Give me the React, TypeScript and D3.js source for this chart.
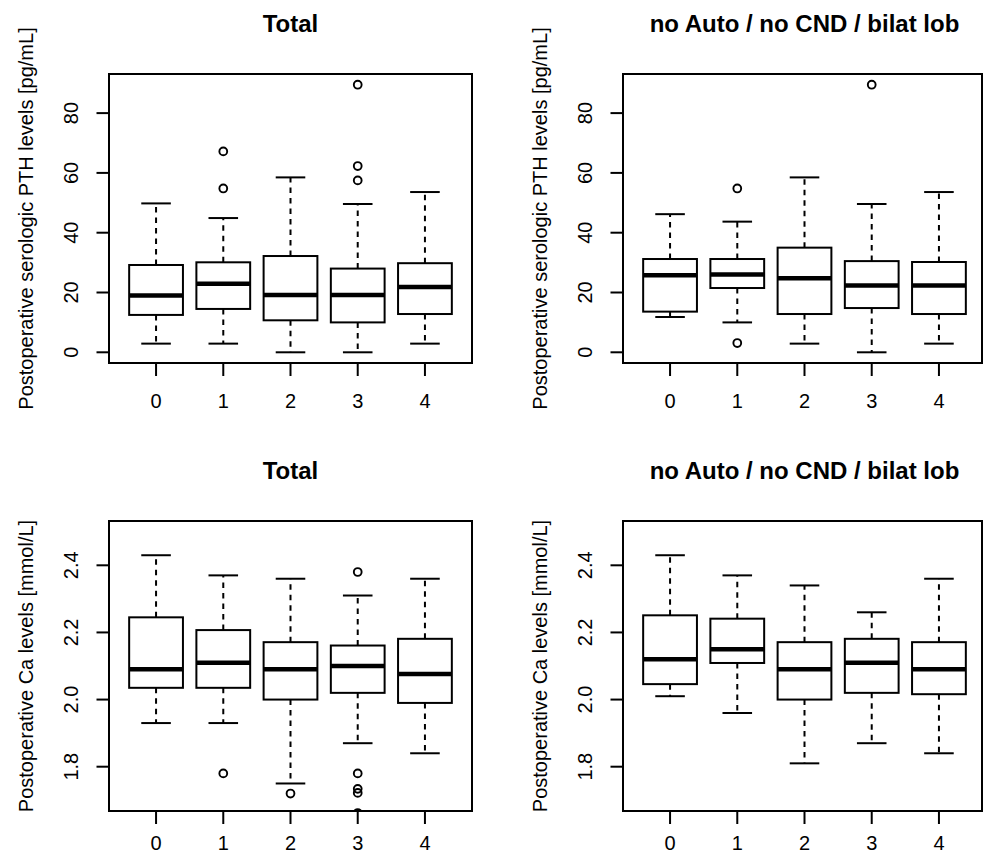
import React from 'react';
import * as d3 from 'd3';

const categories = ['0', '1', '2', '3', '4'];
const categoryPositions = [1, 2, 3, 4, 5];

const pthTicks = [0, 20, 40, 60, 80];
const caTicks = [1.8, 2.0, 2.2, 2.4];

// each box: [lower whisker, Q1, median, Q3, upper whisker]
const pthTotalStats = [
  [2.9, 12.5, 19.0, 29.2, 49.8],
  [2.9, 14.5, 22.9, 30.1, 44.9],
  [0.0, 10.7, 19.2, 32.2, 58.5],
  [0.0, 10.0, 19.2, 28.0, 49.6],
  [2.9, 12.8, 21.8, 29.8, 53.6],
];
const pthTotalOutliers = [[], [67.2, 54.8], [], [89.5, 62.3, 57.5], []];

const pthSubStats = [
  [11.8, 13.6, 25.8, 31.2, 46.2],
  [10.0, 21.5, 26.0, 31.2, 43.7],
  [2.9, 12.8, 24.8, 35.0, 58.5],
  [0.0, 14.8, 22.3, 30.5, 49.6],
  [2.9, 12.8, 22.3, 30.2, 53.6],
];
const pthSubOutliers = [[], [54.8, 3.1], [], [89.5], []];

const caTotalStats = [
  [1.93, 2.035, 2.09, 2.245, 2.43],
  [1.93, 2.035, 2.11, 2.207, 2.37],
  [1.75, 2.0, 2.09, 2.171, 2.36],
  [1.87, 2.02, 2.10, 2.161, 2.31],
  [1.84, 1.99, 2.076, 2.181, 2.36],
];
const caTotalOutliers = [[], [1.78], [1.72], [2.38, 1.78, 1.734, 1.722, 1.662], []];

const caSubStats = [
  [2.01, 2.046, 2.12, 2.251, 2.43],
  [1.96, 2.109, 2.15, 2.241, 2.37],
  [1.81, 2.0, 2.09, 2.171, 2.34],
  [1.87, 2.02, 2.11, 2.181, 2.26],
  [1.84, 2.016, 2.09, 2.171, 2.36],
];
const caSubOutliers = [[], [], [], [], []];

const pthRange = [0, 89.5];
const caRange = [1.7, 2.5];

const W = 986;
const H = 856;
const FONT = "'Liberation Sans', Arial, Helvetica, sans-serif";

function extend(r: number[]) {
  const d = (r[1] - r[0]) * 0.04;
  return [r[0] - d, r[1] + d];
}

type PanelProps = {
  id: string;
  left: number;
  top: number;
  width: number;
  height: number;
  frameRight: number;
  labelOffset: number;
  title: string;
  yLabel: string;
  stats: number[][];
  outliers: number[][];
  yRange: number[];
  ticks: number[];
  fmt: (v: number) => string;
};

function Panel(p: PanelProps) {
  const x = d3.scaleLinear().domain(extend([0.5, 5.5])).range([p.left, p.left + p.width]);
  const y = d3.scaleLinear().domain(extend(p.yRange)).range([p.top + p.height, p.top]);
  const bottom = p.top + p.height;
  const right = p.frameRight;
  const halfBox = x(1.4) - x(1);
  const halfCap = x(1.22) - x(1);
  const centerX = p.left + p.width / 2;
  const midY = p.top + p.height / 2;
  return (
    <g>
      <defs>
        <clipPath id={p.id}>
          <rect x={p.left} y={p.top} width={right - p.left} height={p.height} />
        </clipPath>
      </defs>
      <text x={centerX} y={p.top - 42} textAnchor="middle" fontFamily={FONT} fontWeight="bold" fontSize={24}>
        {p.title}
      </text>
      <text
        transform={`translate(${p.left - 76},${midY}) rotate(-90)`}
        textAnchor="middle"
        fontFamily={FONT}
        fontSize={20}
      >
        {p.yLabel}
      </text>
      {p.ticks.map((t) => (
        <g key={t}>
          <line x1={p.left - 12.5} x2={p.left} y1={y(t)} y2={y(t)} stroke="#000" strokeWidth={2} />
          <text
            transform={`translate(${p.left - 31.5},${y(t)}) rotate(-90)`}
            textAnchor="middle"
            fontFamily={FONT}
            fontSize={20}
          >
            {p.fmt(t)}
          </text>
        </g>
      ))}
      {categories.map((c, i) => (
        <g key={c}>
          <line x1={x(categoryPositions[i])} x2={x(categoryPositions[i])} y1={bottom} y2={bottom + 13} stroke="#000" strokeWidth={2} />
          <text x={x(categoryPositions[i])} y={bottom + p.labelOffset} textAnchor="middle" fontFamily={FONT} fontSize={20}>
            {c}
          </text>
        </g>
      ))}
      <g clipPath={`url(#${p.id})`}>
        {p.stats.map((s, i) => {
          const cx = x(categoryPositions[i]);
          const [lo, q1, med, q3, hi] = s;
          return (
            <g key={i}>
              <line x1={cx} x2={cx} y1={y(q3)} y2={y(hi)} stroke="#000" strokeWidth={2} strokeDasharray="5.5 5" />
              <line x1={cx} x2={cx} y1={y(q1)} y2={y(lo)} stroke="#000" strokeWidth={2} strokeDasharray="5.5 5" />
              <line x1={cx - halfCap} x2={cx + halfCap} y1={y(hi)} y2={y(hi)} stroke="#000" strokeWidth={2} />
              <line x1={cx - halfCap} x2={cx + halfCap} y1={y(lo)} y2={y(lo)} stroke="#000" strokeWidth={2} />
              <rect
                x={cx - halfBox}
                y={y(q3)}
                width={halfBox * 2}
                height={y(q1) - y(q3)}
                fill="#fff"
                stroke="#000"
                strokeWidth={2}
              />
              <line x1={cx - halfBox} x2={cx + halfBox} y1={y(med)} y2={y(med)} stroke="#000" strokeWidth={4.5} />
              {p.outliers[i].map((o, k) => (
                <circle key={k} cx={cx} cy={y(o)} r={3.9} fill="none" stroke="#000" strokeWidth={1.9} />
              ))}
            </g>
          );
        })}
      </g>
      <rect x={p.left} y={p.top} width={right - p.left} height={p.height} fill="none" stroke="#000" strokeWidth={2} />
    </g>
  );
}

export default function App() {
  const f0 = d3.format('d');
  const f1 = d3.format('.1f');
  const pthLabel = 'Postoperative serologic PTH levels [pg/mL]';
  const caLabel = 'Postoperative Ca levels [mmol/L]';
  return (
    <svg
      width={W}
      height={H}
      viewBox={`0 0 ${W} ${H}`}
      style={{ position: 'absolute', left: 0, top: 0, background: '#fff' }}
    >
      <rect x={0} y={0} width={W} height={H} fill="#fff" />
      <Panel id="c1" left={109} top={74} width={363} height={289} frameRight={472} labelOffset={45} title="Total" yLabel={pthLabel}
        stats={pthTotalStats} outliers={pthTotalOutliers} yRange={pthRange} ticks={pthTicks} fmt={f0} />
      <Panel id="c2" left={623} top={74} width={363} height={289} frameRight={982} labelOffset={45} title="no Auto / no CND / bilat lob" yLabel={pthLabel}
        stats={pthSubStats} outliers={pthSubOutliers} yRange={pthRange} ticks={pthTicks} fmt={f0} />
      <Panel id="c3" left={109} top={521} width={363} height={290} frameRight={472} labelOffset={39} title="Total" yLabel={caLabel}
        stats={caTotalStats} outliers={caTotalOutliers} yRange={caRange} ticks={caTicks} fmt={f1} />
      <Panel id="c4" left={623} top={521} width={363} height={290} frameRight={982} labelOffset={39} title="no Auto / no CND / bilat lob" yLabel={caLabel}
        stats={caSubStats} outliers={caSubOutliers} yRange={caRange} ticks={caTicks} fmt={f1} />
    </svg>
  );
}
